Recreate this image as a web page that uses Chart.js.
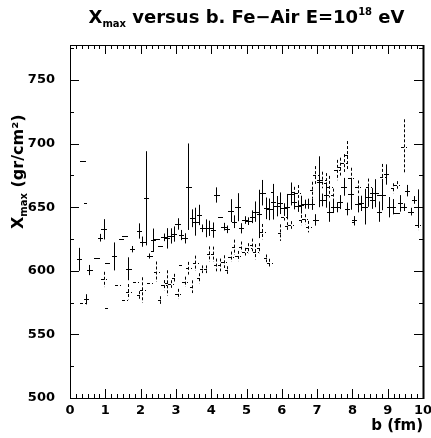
<!DOCTYPE html>
<html>
<head>
<meta charset="utf-8">
<script src="https://cdn.jsdelivr.net/npm/chart.js@4.4.1/dist/chart.umd.min.js"></script>
<style>
  html, body { margin: 0; padding: 0; background: #fff; }
  #wrap { position: relative; width: 431px; height: 438px; }
  #chart { position: absolute; left: 0; top: 0; }
  .title { position: absolute; left: 70px; width: 353px; top: 7px; text-align: center;
           font: bold 18px "DejaVu Sans"; line-height: 20px; color: #000; white-space: nowrap; }
  .ytitle { position: absolute; left: 9px; top: 229px; transform-origin: left top;
            transform: rotate(-90deg); font: bold 16px "DejaVu Sans"; line-height: 18px;
            color: #000; white-space: nowrap; }
  .sub { font-size: 10px; position: relative; top: 4px; }
  .sup { font-size: 10px; position: relative; top: -8px; }
</style>
</head>
<body>
<div id="wrap">
  <canvas id="chart" width="431" height="438"></canvas>
  <div class="title">X<span class="sub">max</span> versus b. Fe−Air E=10<span class="sup">18</span> eV</div>
  <div class="ytitle">X<span class="sub">max</span> (gr/cm²)</div>
</div>
<script>
// impact parameter bins (fm) and mean Xmax (gr/cm2) with errors
const solidB = [0.25, 0.35, 0.45, 0.55, 0.75, 0.85, 0.95, 1.05, 1.25, 1.45, 1.55, 1.65, 1.75, 1.95, 2.05, 2.15, 2.25, 2.35, 2.45, 2.55,
  2.65, 2.75, 2.85, 2.95, 3.05, 3.15, 3.25, 3.35, 3.45, 3.55, 3.65, 3.75, 3.85, 3.95, 4.05, 4.15, 4.25, 4.35, 4.45, 4.55,
  4.65, 4.75, 4.85, 4.95, 5.05, 5.15, 5.25, 5.35, 5.45, 5.55, 5.65, 5.75, 5.85, 5.95, 6.05, 6.15, 6.25, 6.35, 6.45, 6.55,
  6.65, 6.75, 6.85, 6.95, 7.05, 7.15, 7.25, 7.35, 7.45, 7.55, 7.65, 7.75, 7.85, 7.95, 8.05, 8.15, 8.25, 8.35, 8.45, 8.55,
  8.65, 8.75, 8.85, 8.95, 9.05, 9.15, 9.25, 9.35, 9.45, 9.55, 9.65, 9.75, 9.85];
const solidXmax = [609, 686, 577.6, 600.6, 610, 626, 632.6, 606.4, 611.3, 625, 627, 601.6, 617, 631.3, 622.9, 657, 611.6, 624.2, 625, 619.5,
  626.3, 625.5, 627.4, 628.9, 636.8, 628.1, 625.5, 666.1, 641.3, 638.6, 643.9, 633.4, 633.4, 633.4, 632, 659.6, 642.6, 634.7, 632.6, 647.3,
  638.6, 650, 633.4, 639.9, 639, 642.5, 646.5, 644.7, 661.4, 649.1, 648.3, 654.3, 650.8, 653.1, 649.1, 650.4, 660.4, 654.3, 650.8, 652,
  652.4, 652.7, 652.4, 640, 670, 655.7, 659.6, 646.5, 650.4, 650, 654, 666, 648.6, 660, 640, 652.4, 653, 650.4, 658.3, 655.7,
  661, 646.5, 659.6, 675.7, 650, 650.4, 645.2, 653, 650, 663, 646.5, 655.7, 650];
const solidErr = [9, 0, 4, 4, 0, 3, 8, 0, 11, 0, 0, 9, 2.5, 6, 4, 37, 2, 9, 0, 0,
  3, 8, 6, 6, 4.5, 4, 4, 34, 7, 11, 8, 3, 7, 6, 6, 6, 0, 3, 3, 9,
  5, 11, 4, 3, 3, 5, 8, 19, 10, 8.5, 8.5, 14, 8, 8.5, 4, 10, 9, 6, 4.5, 7,
  3.5, 4, 4.5, 4.5, 20, 5, 10, 8, 5, 4, 5.5, 7, 5, 12, 3, 6.5, 6, 14, 8, 7,
  11, 8, 12, 8, 8, 6, 0, 6.5, 3, 4.5, 3, 3, 14];

const dashedB = [0.35, 0.45, 0.95, 1.05, 1.35, 1.55, 1.65, 1.85, 1.95, 2.05, 2.25, 2.35, 2.45, 2.55, 2.65, 2.75, 2.85, 2.95, 3.05, 3.15,
  3.25, 3.35, 3.45, 3.55, 3.65, 3.75, 3.85, 3.95, 4.05, 4.15, 4.25, 4.35, 4.45, 4.55, 4.65, 4.75, 4.85, 4.95, 5.05, 5.15,
  5.25, 5.35, 5.45, 5.55, 5.65, 5.75, 5.95, 6.05, 6.15, 6.25, 6.35, 6.45, 6.55, 6.65, 6.75, 6.85, 6.95, 7.05, 7.15, 7.25,
  7.35, 7.45, 7.55, 7.65, 7.75, 7.85, 7.95, 8.05, 8.15, 8.45, 8.55, 8.75, 8.85, 9.05, 9.15, 9.25, 9.45, 9.85];
const dashedXmax = [574.4, 653.5, 593.2, 570.5, 589.2, 577, 583.6, 591, 581, 584.9, 590.7, 615.3, 599.3, 577, 588.7, 590.4, 589.6, 594.6, 581.8, 604.6,
  591.4, 602, 587.5, 605.9, 594.1, 601.2, 601.2, 613.2, 613, 604.6, 604.6, 607.2, 600.6, 611.1, 618.5, 611.6, 619, 615, 617.7, 620.3,
  615, 617.7, 630.8, 609.8, 606.4, 662, 630, 642.5, 635.2, 636, 662, 661.4, 639.9, 640.5, 634.7, 663.5, 675.3, 671.4, 671.4, 668.8,
  666.1, 659.6, 679.2, 681.9, 684.7, 691, 673, 638.6, 666, 666, 661, 659.6, 674, 650, 664.8, 667.5, 697.6, 636];
const dashedErr = [0, 0, 6, 0, 0, 0, 6, 0, 3, 10, 0, 0, 8, 3, 4, 10, 3, 3, 4, 0,
  4, 5, 5, 6, 4, 3, 3, 6, 6, 5, 5, 5, 3, 4, 6, 4, 4, 3, 4, 5,
  6, 4, 6, 3, 3, 4.5, 6.5, 3, 3, 3, 4, 6, 4, 4, 4.5, 6.5, 7, 5, 6.5, 8,
  8.5, 5, 8, 7, 7, 11, 8, 3, 5, 6.5, 4, 0, 10, 6, 4, 3, 21.5, 4];

const binHalfWidth = 0.05;
const xTickLabels = [0, 1, 2, 3, 4, 5, 6, 7, 8, 9, 10];
const yTickLabels = [500, 550, 600, 650, 700, 750];

const toPoints = (bs, vals, errs) => bs.map((b, i) => ({ x: b, y: vals[i], err: errs[i] }));

// ROOT-like frame with inward ticks on all four sides
const framePlugin = {
  id: 'frame',
  afterDraw(chart) {
    const { ctx, chartArea: a, scales: { x, y } } = chart;
    ctx.save();
    ctx.strokeStyle = '#000';
    ctx.lineWidth = 1;
    ctx.strokeRect(a.left + 0.5, a.top + 0.5, a.right - a.left, a.bottom - a.top);
    ctx.lineWidth = 2;
    ctx.beginPath();
    ctx.moveTo(a.right + 0.5, a.top);
    ctx.lineTo(a.right + 0.5, a.bottom + 1);
    ctx.stroke();
    ctx.lineWidth = 1;
    ctx.beginPath();
    for (let i = 0; i <= 60; i++) {
      const px = Math.round(x.getPixelForValue(i / 6)) + 0.5;
      const len = i % 6 === 0 ? 9 : 4;
      ctx.moveTo(px, a.bottom); ctx.lineTo(px, a.bottom - len);
      ctx.moveTo(px, a.top); ctx.lineTo(px, a.top + len);
    }
    for (let v = 500; v <= 775; v += 25) {
      const py = Math.round(y.getPixelForValue(v)) + 0.5;
      const len = v % 50 === 0 ? 9 : 4;
      ctx.moveTo(a.left, py); ctx.lineTo(a.left + len, py);
      ctx.moveTo(a.right, py); ctx.lineTo(a.right - len, py);
    }
    ctx.stroke();
    ctx.restore();
  }
};

// profile bins: horizontal bin line + vertical error bar
const errorBarPlugin = {
  id: 'errorBars',
  afterDatasetsDraw(chart) {
    const { ctx, chartArea: a, scales: { x, y } } = chart;
    ctx.save();
    ctx.beginPath();
    ctx.rect(a.left, a.top, a.right - a.left, a.bottom - a.top);
    ctx.clip();
    chart.data.datasets.forEach(ds => {
      ctx.strokeStyle = ds.borderColor;
      ctx.lineWidth = 1;
      ctx.setLineDash(ds.borderDash || []);
      ds.data.forEach(p => {
        const px = Math.round(x.getPixelForValue(p.x)) + 0.5;
        const py = Math.round(y.getPixelForValue(p.y)) + 0.5;
        const x0 = x.getPixelForValue(p.x - binHalfWidth);
        const x1 = x.getPixelForValue(p.x + binHalfWidth);
        ctx.beginPath();
        ctx.moveTo(Math.floor(x0), py);
        ctx.lineTo(Math.ceil(x1) + 1, py);
        if (p.err > 0) {
          ctx.moveTo(px, y.getPixelForValue(p.y + p.err));
          ctx.lineTo(px, y.getPixelForValue(p.y - p.err));
        }
        ctx.stroke();
      });
    });
    ctx.restore();
  }
};

const tickFont = { family: 'DejaVu Sans', size: 13, weight: 'bold' };

new Chart(document.getElementById('chart'), {
  type: 'scatter',
  data: {
    datasets: [
      { label: 'solid', data: toPoints(solidB, solidXmax, solidErr), borderColor: '#000', pointRadius: 0 },
      { label: 'dashed', data: toPoints(dashedB, dashedXmax, dashedErr), borderColor: '#000', borderDash: [3, 2], pointRadius: 0 }
    ]
  },
  options: {
    responsive: false,
    animation: false,
    layout: { padding: { left: 0, right: 8, top: 45, bottom: 0 } },
    plugins: { legend: { display: false }, tooltip: { enabled: false } },
    scales: {
      x: {
        type: 'linear', min: 0, max: 10,
        grid: { display: false, drawTicks: false, tickLength: 0 },
        border: { display: false },
        ticks: { font: tickFont, color: '#000', padding: 5, autoSkip: false, maxRotation: 0 },
        title: { display: true, text: 'b (fm)', align: 'end', color: '#000',
                 font: { family: 'DejaVu Sans', size: 15, weight: 'bold' }, padding: { top: 0, bottom: 3 } },
        afterBuildTicks: s => { s.ticks = xTickLabels.map(v => ({ value: v })); },
        afterFit: s => { s.height = 40; s.paddingLeft = 0; s.paddingRight = 0; }
      },
      y: {
        type: 'linear', min: 500, max: 777.5,
        grid: { display: false, drawTicks: false, tickLength: 0 },
        border: { display: false },
        ticks: { font: tickFont, color: '#000', padding: 15, autoSkip: false },
        afterBuildTicks: s => { s.ticks = yTickLabels.map(v => ({ value: v })); },
        afterFit: s => { s.width = 70; s.paddingTop = 0; s.paddingBottom = 0; }
      }
    }
  },
  plugins: [errorBarPlugin, framePlugin]
});
</script>
</body>
</html>
